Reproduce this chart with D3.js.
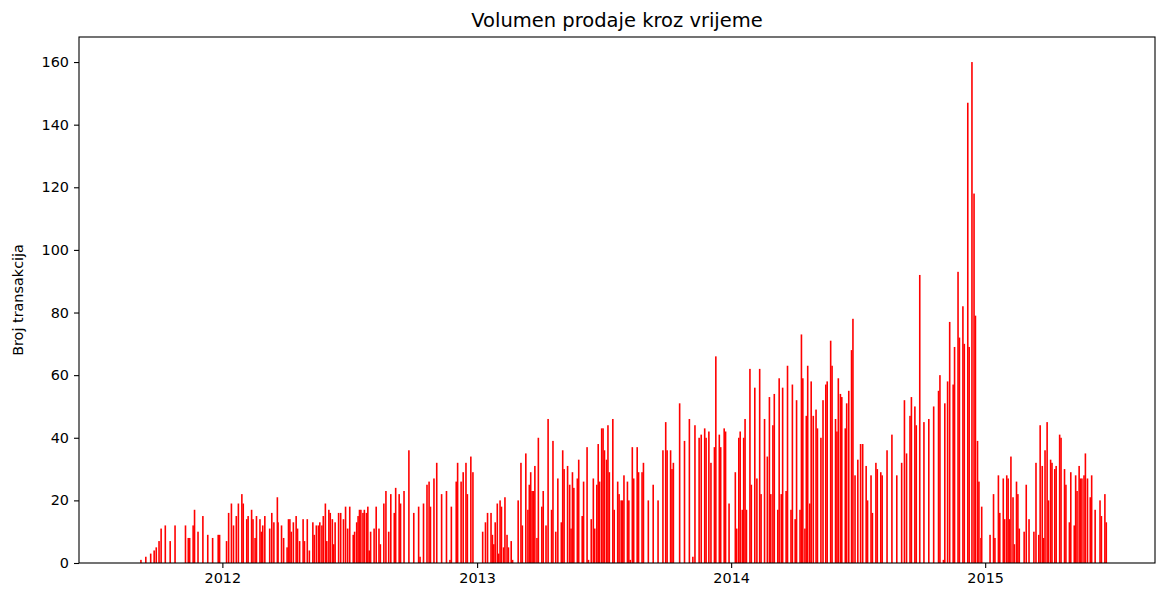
<!DOCTYPE html>
<html>
<head>
<meta charset="utf-8">
<script src="https://cdn.jsdelivr.net/npm/d3@7"></script>
<style>
  html, body { margin: 0; padding: 0; background: #fff; }
  svg { display: block; font-family: "DejaVu Sans", sans-serif; }
</style>
</head>
<body>
<svg id="chart"></svg>
<script>
// Daily transaction counts, [days since 2011-09-01, count]
const firstDay = Date.UTC(2011, 8, 1);

const sales2011 = [[5,1],[12,2],[19,3],[24,4],[27,5],[31,7],[34,11],[40,12],[47,7],[54,12],[69,12],[73,8],[75,8],
  [80,12],[82,17],[87,10],[94,15],[101,9],[108,8],[116,9],[118,9]];

const sales2012 = [[128,7],[131,16],[135,19],[138,12],[142,15],[145,19],[150,22],[152,19],[157,14],[159,15],[164,17],
  [166,14],[169,8],[171,15],[176,14],[178,10],[180,12],[183,15],[190,11],[193,16],[196,13],[201,21],[202,13],[207,12],
  [210,8],[215,5],[217,14],[219,14],[221,10],[224,13],[228,15],[230,11],[233,7],[238,14],[240,7],[244,14],[247,4],
  [252,13],[254,9],[257,12],[260,12],[262,13],[265,12],[267,15],[270,19],[272,7],[275,17],[277,16],[280,14],[282,6],
  [284,13],[289,16],[292,16],[296,14],[299,18],[302,11],[305,18],[310,9],[312,10],[315,13],[317,15],[319,17],[321,17],
  [324,16],[326,17],[329,16],[331,18],[333,4],[335,10],[340,11],[343,18],[347,11],[349,6],[354,19],[357,23],[361,10],
  [364,22],[369,16],[371,24],[376,22],[378,19],[383,23],[390,36],[397,16],[404,18],[406,2],[411,19],[416,25],[419,26],
  [421,18],[426,27],[430,32],[437,22],[444,23],[449,1],[451,18],[458,26],[460,32],[465,26],[468,29],[472,32],[474,22],
  [479,34],[482,29]];

const sales2013 = [[496,10],[500,13],[503,16],[508,16],[510,9],[512,6],[514,13],[517,19],[519,3],[521,20],[523,18],
  [526,5],[528,21],[531,9],[533,5],[537,7],[539,1],[547,20],[551,32],[553,12],[558,35],[561,17],[563,25],[565,29],
  [567,23],[569,23],[571,31],[574,8],[576,40],[581,18],[583,23],[587,12],[590,46],[595,17],[597,39],[601,10],[604,27],
  [609,13],[611,36],[613,30],[618,31],[621,25],[623,11],[625,29],[627,24],[632,27],[634,33],[639,15],[641,26],[646,37],
  [648,1],[652,14],[655,27],[657,11],[660,25],[662,38],[664,26],[667,43],[669,43],[671,36],[674,33],[676,44],[678,29],
  [683,46],[685,17],[690,26],[692,22],[695,20],[697,20],[699,28],[704,26],[706,20],[708,1],[711,37],[713,27],[718,37],
  [720,29],[725,29],[727,32],[734,20],[741,25],[748,20],[755,36],[759,45],[761,36],[766,36],[768,30],[770,32],[779,51],
  [786,39],[793,46],[798,2],[801,44],[807,40],[810,41],[815,43],[817,40],[821,42],[824,32],[829,37],[831,66],[836,41],
  [838,37],[843,43],[845,42],[850,19]];

const sales2014 = [[859,29],[861,11],[864,40],[866,42],[869,17],[871,40],[873,46],[875,17],[880,62],[882,25],[887,56],
  [890,27],[894,62],[896,22],[901,46],[905,34],[908,53],[910,22],[913,44],[915,54],[920,17],[922,59],[925,22],[927,56],
  [932,23],[934,63],[939,17],[941,57],[945,14],[947,52],[952,17],[954,73],[956,59],[959,11],[961,47],[963,63],[966,19],
  [968,58],[971,47],[975,49],[977,43],[982,40],[985,52],[989,57],[991,58],[996,71],[998,63],[1003,46],[1005,42],
  [1007,59],[1010,54],[1012,53],[1017,43],[1019,51],[1022,55],[1026,68],[1028,78],[1031,28],[1035,33],[1039,38],
  [1042,38],[1047,31],[1049,20],[1054,28],[1056,16],[1061,32],[1063,30],[1068,29],[1070,28],[1077,36],[1084,41],
  [1091,28],[1098,32],[1102,52],[1105,35],[1110,47],[1112,53],[1117,50],[1119,44],[1124,92],[1130,45],[1137,46],
  [1144,50],[1151,55],[1153,60],[1158,1],[1160,51],[1164,58],[1167,77],[1172,57],[1174,69],[1179,93],[1181,72],
  [1186,82],[1188,70],[1193,147],[1195,69],[1199,160],[1202,118],[1204,79],[1207,39],[1209,26],[1212,8],[1213,18]];

const sales2015 = [[1225,9],[1230,22],[1232,8],[1237,28],[1239,16],[1244,27],[1246,14],[1249,28],[1251,27],[1253,14],
  [1255,34],[1258,21],[1260,6],[1263,26],[1265,22],[1267,11],[1274,10],[1277,25],[1281,14],[1288,10],[1291,32],
  [1295,9],[1297,44],[1300,31],[1302,8],[1304,36],[1307,45],[1309,20],[1312,33],[1314,32],[1318,30],[1320,31],
  [1325,41],[1327,40],[1332,30],[1334,25],[1339,13],[1341,29],[1346,12],[1348,28],[1350,23],[1353,31],[1355,27],
  [1357,27],[1360,28],[1362,35],[1365,27],[1369,21],[1371,28],[1376,17],[1383,20],[1385,15],[1390,22],[1392,13]];

const yTicks = [0, 20, 40, 60, 80, 100, 120, 140, 160];
const xTickYears = [2012, 2013, 2014, 2015];

const title = 'Volumen prodaje kroz vrijeme';
const yLabel = 'Broj transakcija';

const width = 1156, height = 592;
const margin = { top: 37, right: 1, bottom: 29, left: 79 };
const innerWidth = width - margin.left - margin.right;
const innerHeight = height - margin.top - margin.bottom;

const data = [...sales2011, ...sales2012, ...sales2013, ...sales2014, ...sales2015]
  .map(([d, c]) => ({ date: d3.utcDay.offset(new Date(firstDay), d), count: c }));

const svg = d3.select('#chart')
  .attr('width', width)
  .attr('height', height)
  .attr('viewBox', `0 0 ${width} ${height}`);

const g = svg.append('g').attr('transform', `translate(${margin.left}, ${margin.top})`);

const xScale = d3.scaleUtc()
  .domain([new Date(Date.UTC(2011, 5, 9)), new Date(Date.UTC(2015, 8, 2))])
  .range([0, innerWidth]);
const yScale = d3.scaleLinear().domain([0, 168]).range([innerHeight, 0]);

// Bars
const barW = 1.6;
g.append('g')
  .selectAll('rect')
  .data(data)
  .join('rect')
  .attr('x', d => xScale(d.date) - barW / 2)
  .attr('y', d => yScale(d.count))
  .attr('width', barW)
  .attr('height', d => yScale(0) - yScale(d.count))
  .attr('fill', '#ff0000');

// Axes
const xAxis = g.append('g')
  .attr('transform', `translate(0, ${innerHeight})`)
  .call(d3.axisBottom(xScale)
    .tickValues(xTickYears.map(y => new Date(Date.UTC(y, 0, 1))))
    .tickFormat(d3.utcFormat('%Y'))
    .tickSize(5).tickPadding(5));

const yAxis = g.append('g')
  .call(d3.axisLeft(yScale).tickValues(yTicks).tickSize(5).tickPadding(5));

[xAxis, yAxis].forEach(ax => {
  ax.select('.domain').remove();
  ax.selectAll('line').attr('stroke', '#000').attr('stroke-width', 1.1);
  ax.selectAll('text').attr('fill', '#000').attr('font-size', '14.4px').attr('font-family', '"DejaVu Sans", sans-serif');
});

// Frame
g.append('rect')
  .attr('x', 0).attr('y', 0)
  .attr('width', innerWidth).attr('height', innerHeight)
  .attr('fill', 'none')
  .attr('stroke', '#000')
  .attr('stroke-width', 1.1);

// Title
svg.append('text')
  .attr('x', margin.left + innerWidth / 2)
  .attr('y', 27)
  .attr('text-anchor', 'middle')
  .attr('font-size', '19.5px')
  .attr('fill', '#000')
  .text(title);

// Y label
svg.append('text')
  .attr('transform', `translate(23, ${margin.top + innerHeight / 2}) rotate(-90)`)
  .attr('text-anchor', 'middle')
  .attr('font-size', '14.4px')
  .attr('fill', '#000')
  .text(yLabel);
</script>
</body>
</html>
